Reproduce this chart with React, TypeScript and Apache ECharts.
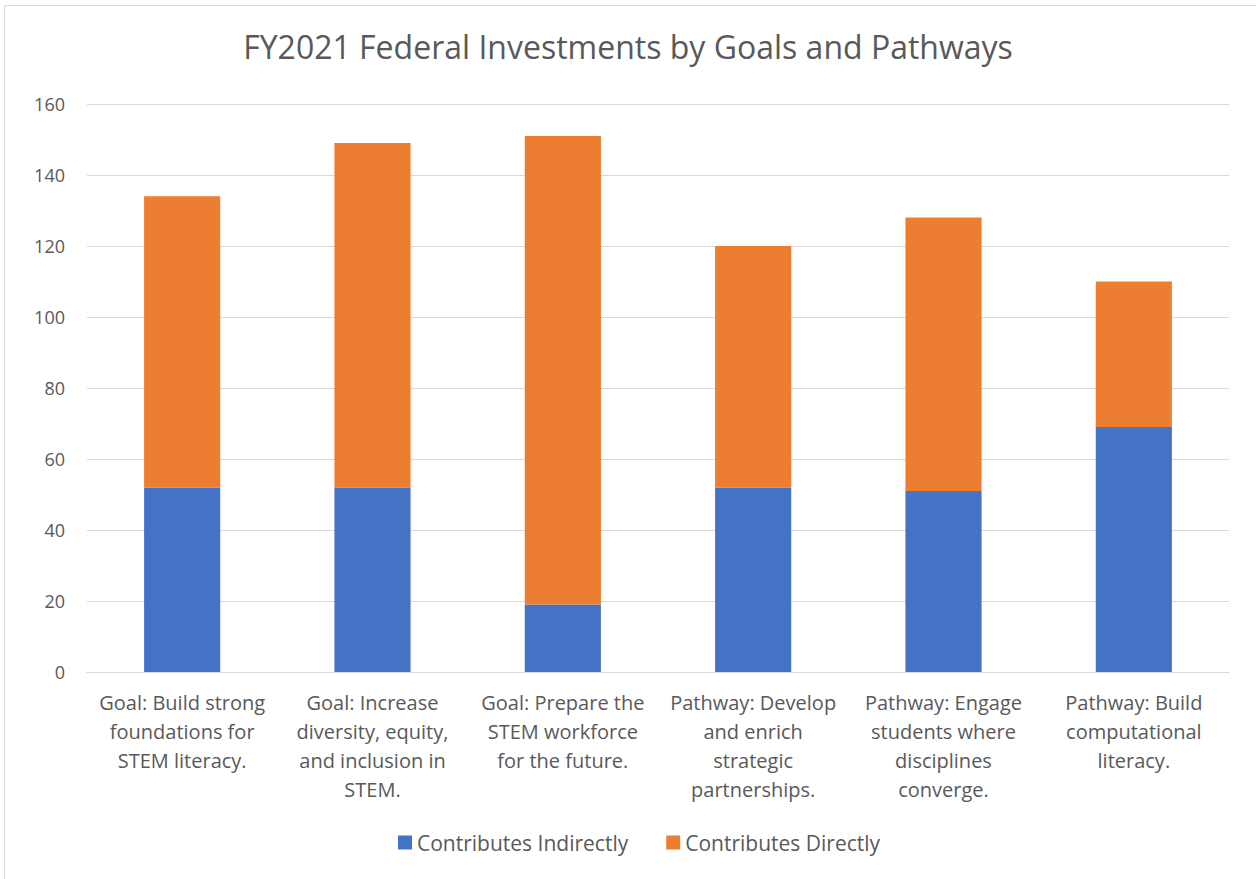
import React, { useEffect, useRef } from "react";
import * as echarts from "echarts";

const chartTitle = "FY2021 Federal Investments by Goals and Pathways";
const categories = [
  "Goal: Build strong\nfoundations for\nSTEM literacy.",
  "Goal: Increase\ndiversity, equity,\nand inclusion in\nSTEM.",
  "Goal: Prepare the\nSTEM workforce\nfor the future.",
  "Pathway: Develop\nand enrich\nstrategic\npartnerships.",
  "Pathway: Engage\nstudents where\ndisciplines\nconverge.",
  "Pathway: Build\ncomputational\nliteracy.",
];
const seriesNames = ["Contributes Indirectly", "Contributes Directly"];
const indirectValues = [52, 52, 19, 52, 51, 69];
const directValues = [82, 97, 132, 68, 77, 41];
const yTicks = { min: 0, max: 160, interval: 20 };

const FONT = "'Open Sans', 'Noto Sans', sans-serif";
const GREY = "#595959";

export default function App() {
  const ref = useRef<HTMLDivElement>(null);
  useEffect(() => {
    const chart = echarts.init(ref.current!, null, { renderer: "svg" });
    chart.setOption({
      animation: false,
      backgroundColor: "#ffffff",
      textStyle: { fontFamily: FONT },
      title: {
        text: chartTitle,
        left: "center",
        top: 25,
        textStyle: { fontFamily: FONT, fontSize: 32, fontWeight: "normal", color: GREY },
      },
      graphic: [
        {
          type: "rect",
          shape: { x: 4.5, y: 5.5, width: 1400, height: 1000 },
          style: { fill: "none", stroke: "#d9d9d9", lineWidth: 1 },
          silent: true,
        },
      ],
      grid: { left: 87, right: 27, top: 104, bottom: 207, containLabel: false },
      legend: {
        data: seriesNames,
        bottom: 21,
        left: 393,
        icon: "rect",
        itemWidth: 14,
        itemHeight: 14,
        itemGap: 38,
        textStyle: { fontFamily: FONT, fontSize: 21, color: GREY },
      },
      xAxis: {
        type: "category",
        data: categories,
        axisLine: { lineStyle: { color: "#d9d9d9", width: 1 } },
        axisTick: { show: false },
        axisLabel: {
          interval: 0,
          fontFamily: FONT,
          fontSize: 20,
          color: GREY,
          lineHeight: 29,
          margin: 16,
          align: "center",
        },
      },
      yAxis: {
        type: "value",
        min: yTicks.min,
        max: yTicks.max,
        interval: yTicks.interval,
        axisLine: { show: false },
        axisTick: { show: false },
        axisLabel: { fontFamily: FONT, fontSize: 18, color: GREY, margin: 22 },
        splitLine: { lineStyle: { color: "#d9d9d9", width: 1 } },
      },
      series: [
        {
          name: seriesNames[0],
          type: "bar",
          stack: "total",
          data: indirectValues,
          barWidth: "40%",
          itemStyle: { color: "#4472c4" },
        },
        {
          name: seriesNames[1],
          type: "bar",
          stack: "total",
          data: directValues,
          barWidth: "40%",
          itemStyle: { color: "#ed7d31" },
        },
      ],
    });
    return () => chart.dispose();
  }, []);
  return (
    <div
      ref={ref}
      style={{ position: "fixed", left: 0, top: 0, width: 1256, height: 879 }}
    />
  );
}
